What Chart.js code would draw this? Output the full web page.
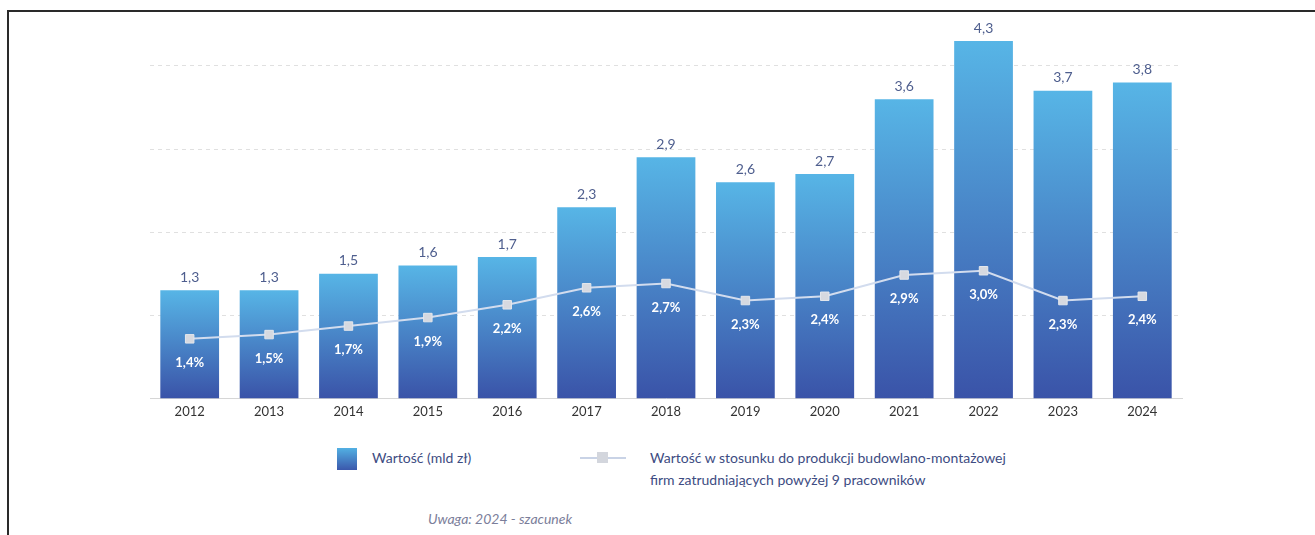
<!DOCTYPE html>
<html>
<head>
<meta charset="utf-8">
<script src="https://cdn.jsdelivr.net/npm/chart.js@4.4.1/dist/chart.umd.min.js"></script>
<style>
  html, body { margin: 0; padding: 0; background: #fff; }
  body { width: 1315px; height: 535px; position: relative; overflow: hidden; font-family: Lato, "Noto Sans", sans-serif; }
  .frame { position: absolute; left: 7px; top: 10px; right: -5px; bottom: -5px; border-left: 2px solid #2a2a2a; border-top: 2px solid #2a2a2a; }
  #wrap { position: absolute; left: 0; top: 0; width: 1315px; height: 430px; }
  .legend { position: absolute; top: 447px; font-size: 14px; color: #3d4c82; line-height: 22px; }
  .swatch { position: absolute; left: 337px; top: 448px; width: 20px; height: 22px; background: linear-gradient(#52b0e3, #3b58ac); }
  .lineicon { position: absolute; left: 580px; top: 457px; width: 46px; height: 2px; background: #c9d3e6; }
  .lineicon span { position: absolute; left: 17px; top: -5px; width: 11px; height: 11px; background: #d3d6dd; }
  .note { position: absolute; top: 510px; left: 0; width: 1000px; text-align: center; font-size: 14px; font-style: italic; color: #7b7e9a; }
</style>
</head>
<body>
<div class="frame"></div>
<div id="wrap"><canvas id="myChart"></canvas></div>
<div class="swatch"></div>
<div class="legend" style="left:372px">Wartość (mld zł)</div>
<div class="lineicon"><span></span></div>
<div class="legend" style="left:650px">Wartość w stosunku do produkcji budowlano-montażowej<br>firm zatrudniających powyżej 9 pracowników</div>
<div class="note">Uwaga: 2024 - szacunek</div>
<script>
var years = ["2012", "2013", "2014", "2015", "2016", "2017", "2018", "2019", "2020", "2021", "2022", "2023", "2024"];
var wartosc = [1.3, 1.3, 1.5, 1.6, 1.7, 2.3, 2.9, 2.6, 2.7, 3.6, 4.3, 3.7, 3.8];
var udzial = [1.4, 1.5, 1.7, 1.9, 2.2, 2.6, 2.7, 2.3, 2.4, 2.9, 3.0, 2.3, 2.4];

function fmt(v) { return v.toFixed(1).replace(".", ","); }

// labels over the bars and under the line markers
var labelPlugin = {
  id: "labels",
  afterDatasetsDraw: function (chart) {
    var ctx = chart.ctx;
    ctx.save();
    ctx.textAlign = "center";
    var bars = chart.getDatasetMeta(1).data;
    ctx.fillStyle = "#4e5e8e";
    ctx.font = "14px Lato";
    ctx.textBaseline = "bottom";
    bars.forEach(function (b, i) { ctx.fillText(fmt(wartosc[i]), b.x, b.y - 6); });
    var pts = chart.getDatasetMeta(0).data;
    ctx.fillStyle = "#ffffff";
    ctx.font = "bold 13px Lato";
    ctx.textBaseline = "middle";
    pts.forEach(function (p, i) { ctx.fillText(fmt(udzial[i]) + "%", p.x, p.y + 24); });
    ctx.restore();
  }
};

var ctx = document.getElementById("myChart").getContext("2d");
var myChart = new Chart(ctx, {
  type: "bar",
  data: {
    labels: years,
    datasets: [
      {
        type: "line",
        data: udzial,
        yAxisID: "y2",
        borderColor: "#d2dcee",
        borderWidth: 2,
        pointStyle: "rect",
        pointRadius: 6,
        pointBackgroundColor: "#d6d9e0",
        pointBorderColor: "#e4e7ec",
        pointBorderWidth: 1,
        tension: 0,
        order: 0
      },
      {
        data: wartosc,
        yAxisID: "y",
        barPercentage: 0.74,
        categoryPercentage: 1,
        order: 1,
        backgroundColor: function (c) {
          var chart = c.chart;
          if (!chart.chartArea || c.parsed === undefined) return "#4a8fd0";
          var y = chart.scales.y;
          var top = y.getPixelForValue(c.parsed.y);
          var bot = y.getPixelForValue(0);
          var g = chart.ctx.createLinearGradient(0, top, 0, bot);
          g.addColorStop(0, "#57b5e6");
          g.addColorStop(1, "#3a53a8");
          return g;
        }
      }
    ]
  },
  options: {
    responsive: true,
    maintainAspectRatio: false,
    animation: false,
    layout: { padding: { left: 150, right: 133, top: 41, bottom: 4 } },
    plugins: { legend: { display: false }, tooltip: { enabled: false } },
    scales: {
      x: {
        grid: { display: false, drawTicks: false },
        border: { color: "#d6d6d6", width: 1 },
        ticks: { color: "#333333", font: { family: "Lato", size: 13 }, padding: 6 }
      },
      y: {
        min: 0, max: 4.3,
        afterBuildTicks: function (a) { a.ticks = [1, 2, 3, 4].map(function (v) { return { value: v }; }); },
        ticks: { display: false },
        border: { display: false, dash: [4, 4] },
        grid: { color: "#e0e0e0", tickLength: 0, drawTicks: false }
      },
      y2: {
        display: false,
        min: 0, max: 8.4
      }
    }
  },
  plugins: [labelPlugin]
});
</script>
</body>
</html>
